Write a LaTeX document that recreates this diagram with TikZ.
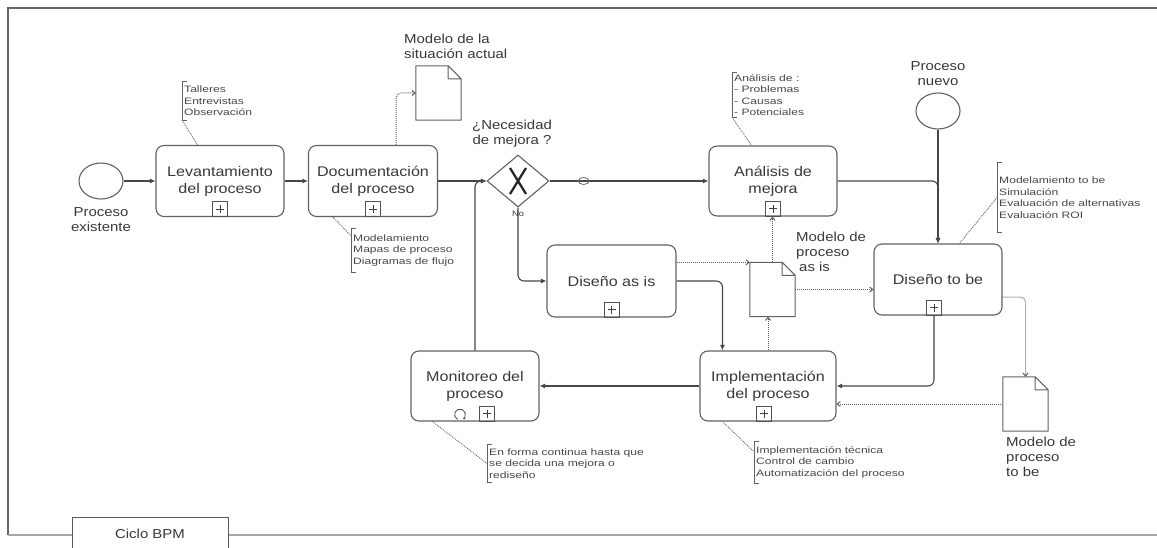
\documentclass[tikz,border=0pt]{standalone}
\usepackage{fontspec}
\setmainfont{Liberation Sans}[FakeStretch=1.15]
\newfontfamily\notefont{Liberation Sans}[FakeStretch=1.3]
\usetikzlibrary{shapes.geometric,arrows.meta,calc}

\begin{document}
\begin{tikzpicture}[x=1pt,y=-1pt,
  task/.style={draw=black!62, line width=1.1pt, rounded corners=8pt, align=center,
    text=black!78, font=\fontsize{14}{17}\selectfont, inner sep=0pt},
  event/.style={draw=black!62, line width=1.1pt, ellipse, inner sep=0pt,
    minimum width=44pt, minimum height=36pt},
  gateway/.style={draw=black!62, line width=1.1pt, diamond, inner sep=0pt,
    minimum width=62pt, minimum height=52pt},
  docbox/.style={draw=none, inner sep=0pt, minimum width=45pt, minimum height=54pt},
  doclabel/.style={align=left, text=black!78, font=\fontsize{13}{15}\selectfont, inner sep=0pt},
  evlabel/.style={align=center, text=black!78, font=\fontsize{13}{15}\selectfont, inner sep=0pt},
  note/.style={align=left, text=black!72, font=\notefont\fontsize{9.3}{11.5}\selectfont,
    inner xsep=2pt, inner ysep=0pt, anchor=west},
  bracket/.style={draw=black!62, line width=0.8pt},
  plusmark/.style={draw=black!68, line width=0.8pt, minimum size=15pt, inner sep=0pt, anchor=south,
    path picture={\draw[line width=0.8pt, black!75]
      ($(path picture bounding box.center)+(-4,0)$) -- +(8,0)
      ($(path picture bounding box.center)+(0,-4)$) -- +(0,8);}},
  flow/.style={draw=black!72, line width=1.1pt, rounded corners=6pt,
    -{Latex[length=5.5pt,width=5pt]}},
  assoc/.style={draw=black!62, line width=1pt, densely dotted, rounded corners=5pt,
    -{Straight Barb[length=3pt,width=5pt]}},
  noteline/.style={draw=black!60, line width=0.9pt, densely dotted},
  docline/.style={draw=black!62, line width=1pt, line join=round}
]
\useasboundingbox (0,0) rectangle (1157,548);

% pool frame and its tab
\draw[black!60, line width=1.5pt] (1157,8) -- (8,8) -- (8,535);
\draw[black!35, line width=2.5pt] (8,535) -- (72,535) (228,535) -- (1157,535);
\draw[black!65, line width=1pt] (72,548) -- (72,517) -- (228,517) -- (228,548);
\node[evlabel] (pool) at (150,534) {Ciclo BPM};

% events
\node[event] (start) at (101,181) {};
\node[evlabel] (startlbl) at (101,220) {Proceso\\existente};
\node[event] (startnew) at (938,111) {};
\node[evlabel] (startnewlbl) at (938,74) {Proceso\\nuevo};

% tasks
\node[task, minimum width=128pt, minimum height=71pt] (lev) at (220,181) {Levantamiento\\del proceso};
\node[task, minimum width=129pt, minimum height=71pt] (doc) at (373,181) {Documentación\\del proceso};
\node[task, minimum width=128pt, minimum height=70pt] (ana) at (773,181) {Análisis de\\mejora};
\node[task, minimum width=129pt, minimum height=72pt] (dasis) at (611.5,281) {Diseño as is};
\node[task, minimum width=128pt, minimum height=71pt] (dtobe) at (938,279.5) {Diseño to be};
\node[task, minimum width=136pt, minimum height=70pt] (impl) at (768,386) {Implementación\\del proceso};
\node[task, minimum width=128pt, minimum height=70pt] (mon) at (475,386) {Monitoreo del\\proceso};

% sub-process markers
\node[plusmark] (levplus) at (lev.south) {};
\node[plusmark] (docplus) at (doc.south) {};
\node[plusmark] (anaplus) at (ana.south) {};
\node[plusmark] (dasisplus) at (dasis.south) {};
\node[plusmark] (dtobeplus) at ($(dtobe.south)+(-4,0)$) {};
\node[plusmark] (implplus) at ($(impl.south)+(-4,0)$) {};
\node[plusmark] (monplus) at ($(mon.south)+(12,0)$) {};
\draw[black!70, line width=0.8pt, -{Latex[length=2.5pt,width=3pt]}]
  ($(mon.south)+(-15,-7)$) ++(115:5.5) arc[start angle=115, end angle=420, radius=5.5];

% gateway
\node[gateway] (gw) at (518,181) {};
\draw[black!85, line width=2.3pt]
  ($(gw.center)+(-8,-13)$) -- ($(gw.center)+(8,13)$)
  ($(gw.center)+(8,-13)$) -- ($(gw.center)+(-8,13)$);
\node[evlabel] (gwlbl) at (512,134) {¿Necesidad\\de mejora ?};
\node[evlabel, font=\fontsize{8}{9}\selectfont] (nolbl) at (518,214) {No};

% data objects
\node[docbox] (docactual) at (438.5,93) {};
\node[docbox] (docasis) at (772.5,289.5) {};
\node[docbox] (doctobe) at (1025.5,404) {};
\foreach \n in {docactual,docasis,doctobe}{
  \draw[docline] (\n.north west) -- ($(\n.north east)+(-13,0)$) -- ($(\n.north east)+(0,13)$)
    -- (\n.south east) -- (\n.south west) -- cycle
    ($(\n.north east)+(-13,0)$) -- ++(0,13) -- ++(13,0);
}
\node[doclabel, anchor=west] (docactuallbl) at (404,46.5) {Modelo de la\\situación actual};
\node[doclabel, anchor=west] (docasislbl) at (796,252) {Modelo de\\proceso\\\hspace{3pt}as is};
\node[doclabel, anchor=west] (doctobelbl) at (1006,457) {Modelo de\\proceso\\to be};

% sequence flows
\draw[flow] (start) -- (lev);
\draw[flow] (lev) -- (doc);
\draw[flow] (doc) -- (gw);
\draw[flow] (mon.north) |- (gw.west);
\draw[flow] (gw) -- (ana);
\node[draw=black!60, line width=0.8pt, ellipse, minimum width=11pt, minimum height=7pt, inner sep=0pt]
  (cond) at ($(gw.east)!0.215!(ana.west)$) {};
\draw[flow] (gw.south) |- (dasis.west);
\draw[flow] (ana.east) -| (dtobe.north);
\draw[flow] (startnew.south) -- (dtobe.north);
\draw[flow] (dasis.east) -| ($(impl.north west)+(23,0)$);
\draw[flow] (dtobeplus.south) |- (impl.east);
\draw[flow] (impl.west) -- (mon.east);

% associations with data objects
\draw[assoc] ($(doc.north)+(23,0)$) |- (docactual.west);
\draw[assoc] (dasis.east |- docasis.north west) -- (docasis.north west);
\draw[assoc] (docasis.north) -- (docasis.north |- anaplus.south);
\draw[assoc] (impl.north) -- (impl.north |- docasis.south);
\draw[assoc] (docasis.east) -- (dtobe.west |- docasis.east);
\draw[assoc] ($(dtobe.east)+(0,17.5)$) -| (doctobe.north);
\draw[assoc] (doctobe.west) -- (doctobe.west -| impl.east);

% text annotations
\node[note, minimum height=38pt] (annlev) at (182,101) {Talleres\\Entrevistas\\Observación};
\node[note, minimum height=43pt] (anndoc) at (351,250.5) {Modelamiento\\Mapas de proceso\\Diagramas de flujo};
\node[note, minimum height=44pt] (annana) at (732,95) {Análisis de :\\ - Problemas\\ - Causas\\ - Potenciales};
\node[note, minimum height=69pt] (anndtobe) at (997,197.5) {Modelamiento to be\\Simulación\\Evaluación de alternativas\\Evaluación ROI};
\node[note, minimum height=41pt] (annimpl) at (754,462.5) {Implementación técnica\\Control de cambio\\Automatización del proceso};
\node[note, minimum height=37pt] (annmon) at (487,463.5) {En forma continua hasta que\\se decida una mejora o\\rediseño};
\foreach \a in {annlev,anndoc,annana,anndtobe,annimpl,annmon}{
  \draw[bracket] ($(\a.north west)+(5,0)$) -| (\a.south west) -- ++(5,0);
}
\draw[noteline] (annlev.south west) -- ($(lev.north west)+(42,0)$);
\draw[noteline] ($(doc.south west)+(25,0)$) -- ($(anndoc.north west)+(0,7)$);
\draw[noteline] (annana.south west) -- ($(ana.north west)+(43,0)$);
\draw[noteline] (anndtobe.west) -- ($(dtobe.north west)+(86,0)$);
\draw[noteline] ($(impl.south west)+(23,0)$) -- ($(annimpl.north west)+(0,10)$);
\draw[noteline] ($(mon.south west)+(22,0)$) -- (annmon.west);
\end{tikzpicture}
\end{document}
